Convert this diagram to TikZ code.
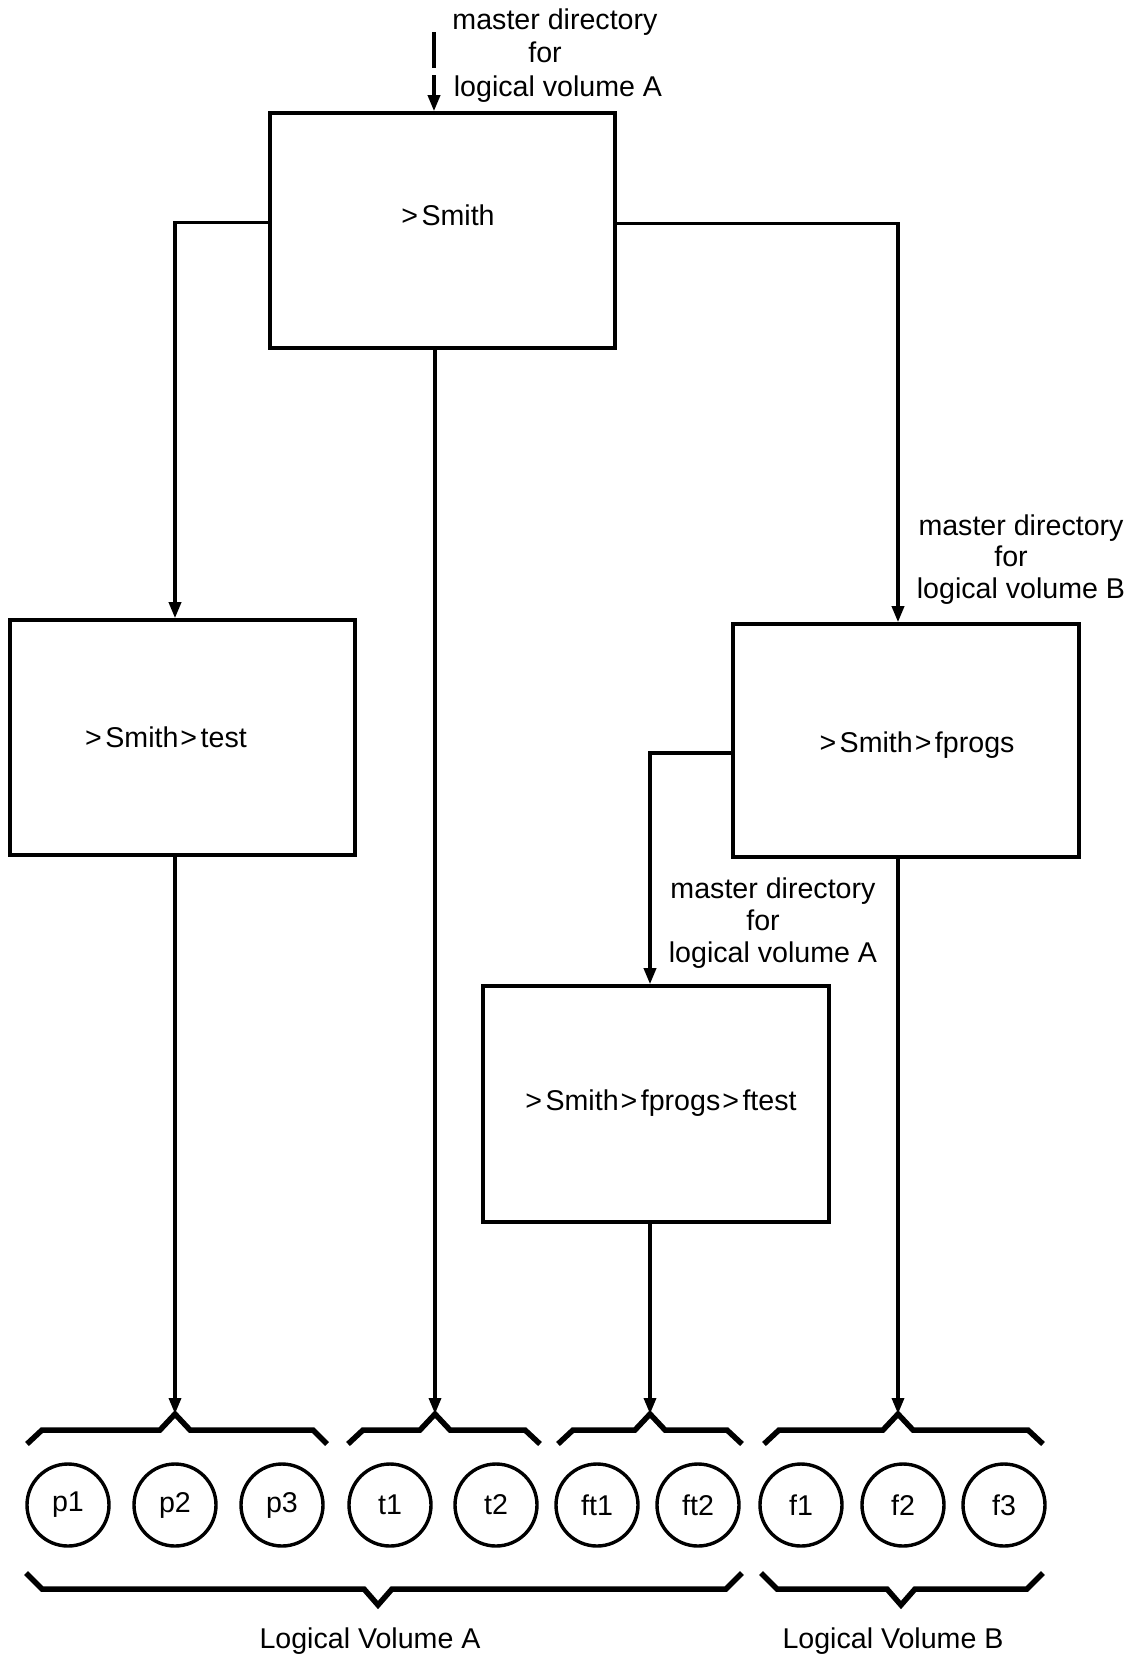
\documentclass[tikz,border=0pt]{standalone}
\usepackage{fontspec}
\setmainfont{Liberation Sans}
\usetikzlibrary{arrows.meta}
% path separator in directory names
\newcommand\dirsep{\kern2pt>\kern3.5pt}
\begin{document}
\begin{tikzpicture}[x=1pt,y=-1pt,
  every node/.style={font=\fontsize{28.6}{34}\selectfont, inner sep=0pt},
  dirbox/.style={draw, rectangle, line width=3.6pt},
  file/.style={draw, circle, line width=3.4pt, minimum size=82pt},
  lbl/.style={anchor=base},
  flow/.style={line width=3.4pt, -{Triangle[length=16pt,width=12pt]}},
  brace/.style={line width=5.5pt, line join=miter}
]
\useasboundingbox (0,0) rectangle (1136,1658);

% directories
\node[dirbox, minimum width=345pt, minimum height=235pt] (smith)  at (442.5,230.5) {};
\node[dirbox, minimum width=345pt, minimum height=235pt] (test)   at (182.5,737.5) {};
\node[dirbox, minimum width=346pt, minimum height=233pt] (fprogs) at (906,740.5) {};
\node[dirbox, minimum width=346pt, minimum height=236pt] (ftest)  at (656,1104) {};

\node[lbl] (smith-t)  at (447,225)  {\dirsep Smith};
\node[lbl] (test-t)   at (165,747)  {\dirsep Smith\dirsep test};
\node[lbl] (fprogs-t) at (916,752)  {\dirsep Smith\dirsep fprogs};
\node[lbl] (ftest-t)  at (660,1110) {\dirsep Smith\dirsep fprogs\dirsep ftest};

% master directory notes
\node[lbl] (mdA1) at (555,29) {master directory};
\node[lbl] (mdA2) at (545,62) {for};
\node[lbl] (mdA3) at (558,96) {logical volume A};

\node[lbl] (mdB1) at (1021,535) {master directory};
\node[lbl] (mdB2) at (1011,566) {for};
\node[lbl] (mdB3) at (1021,598) {logical volume B};

\node[lbl] (mdC1) at (773,898) {master directory};
\node[lbl] (mdC2) at (763,930) {for};
\node[lbl] (mdC3) at (773,962) {logical volume A};

% files
\foreach \name/\x in {p1/68, p2/175, p3/282, t1/390, t2/496,
                      ft1/597, ft2/698, f1/801, f2/903, f3/1004}
  \node[file] (\name) at (\x,1505) {\name};

% braces over each directory's files
\coordinate (b1) at (175,1414);
\coordinate (b2) at (435,1414);
\coordinate (b3) at (650,1414);
\coordinate (b4) at (898,1414);
\draw[brace] (27,1444) -- (42,1430) -- (160,1430) -- (b1) -- (190,1430) -- (313,1430) -- (327,1444);
\draw[brace] (348,1444) -- (363,1430) -- (420,1430) -- (b2) -- (450,1430) -- (525,1430) -- (540,1444);
\draw[brace] (558,1444) -- (573,1430) -- (635,1430) -- (b3) -- (665,1430) -- (727,1430) -- (742,1444);
\draw[brace] (764,1444) -- (779,1430) -- (883,1430) -- (b4) -- (913,1430) -- (1028,1430) -- (1043,1444);

% braces under the logical volumes
\draw[brace] (26,1573) -- (42,1589) -- (364,1589) -- (378,1605) -- (392,1589) -- (726,1589) -- (742,1573);
\draw[brace] (761,1573) -- (777,1589) -- (887,1589) -- (901,1605) -- (915,1589) -- (1027,1589) -- (1043,1573);

\node[lbl] (volA) at (370,1648) {Logical Volume A};
\node[lbl] (volB) at (893,1648) {Logical Volume B};

% links
\coordinate (mdA) at (434,32);
\draw[flow, dash pattern=on 36pt off 7pt] (mdA) -- (mdA |- smith.north);
\draw[flow] ([yshift=8pt]smith.west) -| (test.north -| b1);
\draw[flow] ([yshift=7pt]smith.east) -| (fprogs.north -| b4);
\draw[flow] (smith.south -| b2) -- (b2);
\draw[flow] (test.south -| b1) -- (b1);
\draw[flow] ([yshift=-12.5pt]fprogs.west) -| (ftest.north -| b3);
\draw[flow] (fprogs.south -| b4) -- (b4);
\draw[flow] (ftest.south -| b3) -- (b3);
\end{tikzpicture}
\end{document}
